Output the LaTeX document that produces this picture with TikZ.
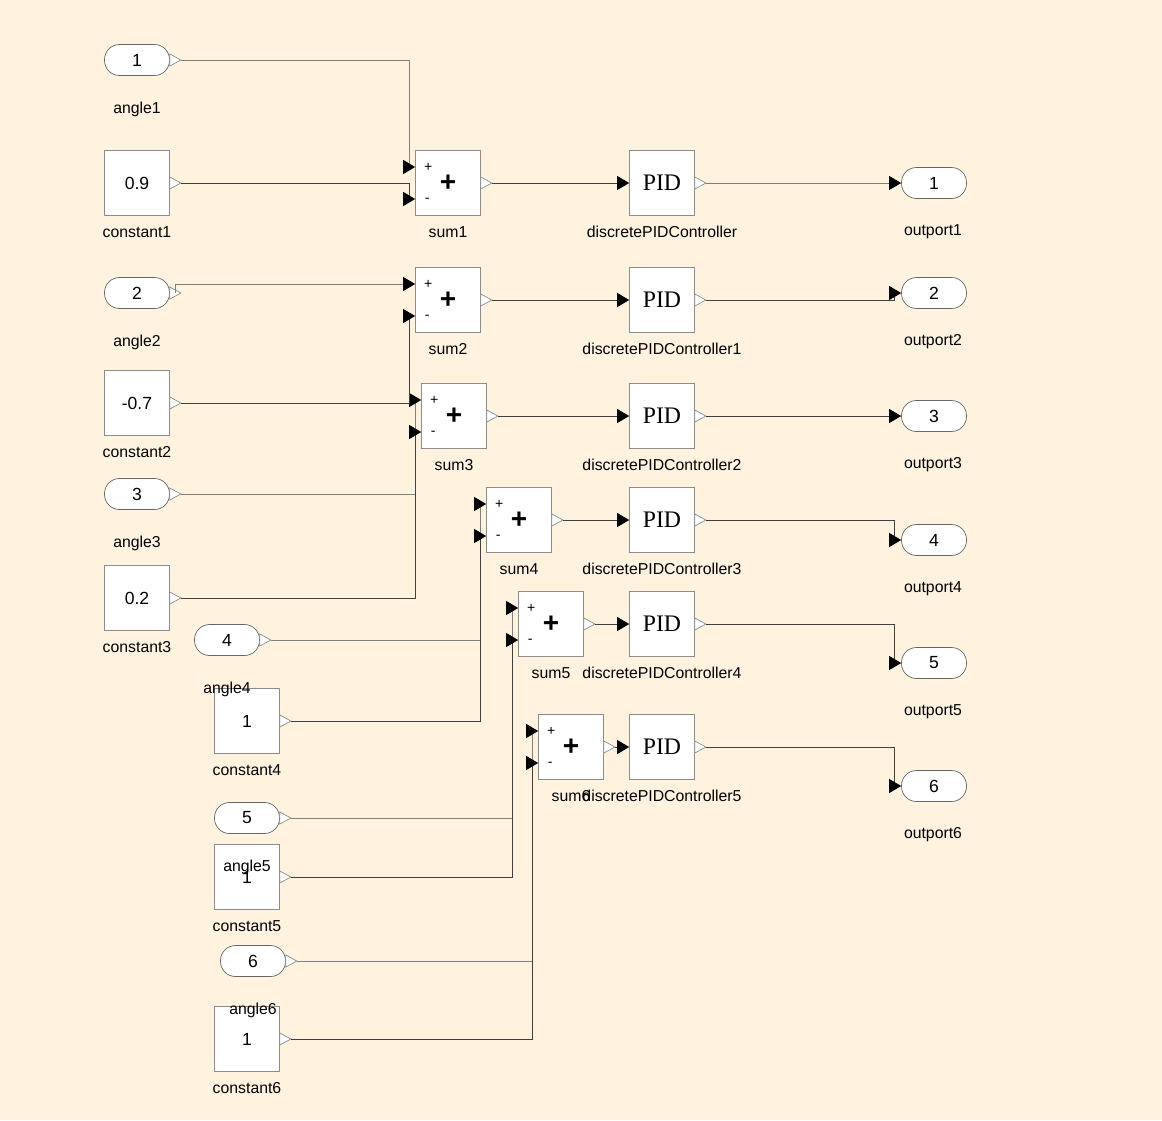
\documentclass[tikz,border=0pt]{standalone}
\usepackage{fontspec}
\setmainfont{Liberation Sans}
\newfontfamily\pidfont{Liberation Serif}
\usepackage{tikz}
\usetikzlibrary{arrows.meta,positioning,calc}

\definecolor{bgcream}{RGB}{255,243,224}
\definecolor{wiredark}{RGB}{64,64,64}
\definecolor{wiregray}{RGB}{128,128,128}

\begin{document}
\begin{tikzpicture}[
    x=0.02cm, y=-0.02cm,
    blk/.style={rectangle, draw=black!45, fill=white, minimum width=1.3cm, minimum height=1.3cm, inner sep=0pt, font=\fontsize{10}{12}\selectfont},
    port/.style={rectangle, rounded corners=0.3cm, draw=black!60, fill=white, minimum width=1.3cm, minimum height=0.62cm, inner sep=0pt, font=\fontsize{10}{12}\selectfont},
    lbl/.style={inner sep=0pt, font=\fontsize{9}{10}\selectfont},
    sgn/.style={inner sep=0pt, font=\fontsize{8}{9}\selectfont},
    otri/.style={draw=black!45, fill=white, line width=0.4pt},
    wire/.style={draw=wiredark, line width=0.5pt, -{Triangle[length=2.4mm,width=2.8mm,color=black,fill=black]}},
    awire/.style={wire, draw=wiregray}
]

% background
\fill[bgcream] (0,0) rectangle (1162,1120);

% Inports (angles)
\foreach \i/\x/\y in {1/137/60, 2/137/293, 3/137/494, 4/227/640, 5/247/818, 6/253/961} {
  \node (angle\i) at (\x,\y) [port] {\i};
}

% Constants
\foreach \i/\x/\y/\val in {1/137/183/0.9, 2/137/403/-0.7, 3/137/598/0.2, 4/247/721/1, 5/247/877/1, 6/247/1039/1} {
  \node (constant\i) at (\x,\y) [blk] {\val};
}

% Sum blocks
\foreach \i/\x/\y in {1/448/183, 2/448/300, 3/454/416, 4/519/520, 5/551/624, 6/571/747} {
  \node (sum\i) at (\x,\y) [blk, font=\fontsize{16}{16}\selectfont\bfseries] {+};
  \node (sum\i-p) at ($(sum\i.west)+(13,-16)$) [sgn] {+};
  \node (sum\i-m) at ($(sum\i.west)+(12,17)$) [sgn] {-};
  \path (sum\i.west) ++(-6,-16) coordinate (sum\i-ja) ++(6,0) coordinate (sum\i-a)
        ++(0,32) coordinate (sum\i-b) ++(-6,0) coordinate (sum\i-jb);
}

% PID controllers
\foreach \i/\y in {1/183, 2/300, 3/416, 4/520, 5/624, 6/747} {
  \node (pid\i) at (662,\y) [blk, font=\pidfont\fontsize{13.5}{14}\selectfont] {PID};
}

% Outports
\foreach \i/\y in {1/183, 2/293, 3/416, 4/540, 5/663, 6/786} {
  \node (outport\i) at (934,\y) [port] {\i};
}

% output triangles
\foreach \n in {angle1,angle2,angle3,angle4,angle5,angle6,constant1,constant2,constant3,constant4,constant5,constant6,sum1,sum2,sum3,sum4,sum5,sum6,pid1,pid2,pid3,pid4,pid5,pid6} {
  \draw[otri] (\n.east) +(0,-6) -- +(11,0) -- +(0,6) -- cycle;
  \path (\n.east) ++(11,0) coordinate (\n-o);
}

% Wires into the sums
\foreach \i in {1,3,4,5,6} {
  \draw[awire] (angle\i-o) -| (sum\i-ja) -- (sum\i-a);
}
\draw[awire] ([xshift=0.12cm]angle2.east) |- (sum2-a);
\foreach \i in {1,...,6} {
  \draw[wire] (constant\i-o) -| (sum\i-jb) -- (sum\i-b);
}

% Sums to PIDs to outports
\foreach \i in {1,...,6} {
  \draw[wire] (sum\i-o) -- (pid\i.west);
  \draw[wire] (pid\i-o) -| ([xshift=-0.14cm]outport\i.west) -- (outport\i.west);
}

% Labels
\foreach \i/\x/\y in {1/137/60, 2/137/293, 3/137/494, 4/227/640, 5/247/818, 6/253/961} {
  \node (angle\i-l) at (\x,\y+49) [lbl] {angle\i};
}
\foreach \i/\x/\y in {1/137/183, 2/137/403, 3/137/598, 4/247/721, 5/247/877, 6/247/1039} {
  \node (constant\i-l) at (\x,\y+49) [lbl] {constant\i};
}
\foreach \i/\x/\y in {1/448/183, 2/448/300, 3/454/416, 4/519/520, 5/551/624, 6/571/747} {
  \node (sum\i-l) at (\x,\y+49) [lbl] {sum\i};
}
\foreach \i/\y/\k in {1/183/, 2/300/1, 3/416/2, 4/520/3, 5/624/4, 6/747/5} {
  \node (pid\i-l) at (662,\y+49) [lbl] {discretePIDController\k};
}
\foreach \i/\y in {1/183, 2/293, 3/416, 4/540, 5/663, 6/786} {
  \node (outport\i-l) at (933,\y+49) [lbl] {outport\i};
}

\end{tikzpicture}
\end{document}
